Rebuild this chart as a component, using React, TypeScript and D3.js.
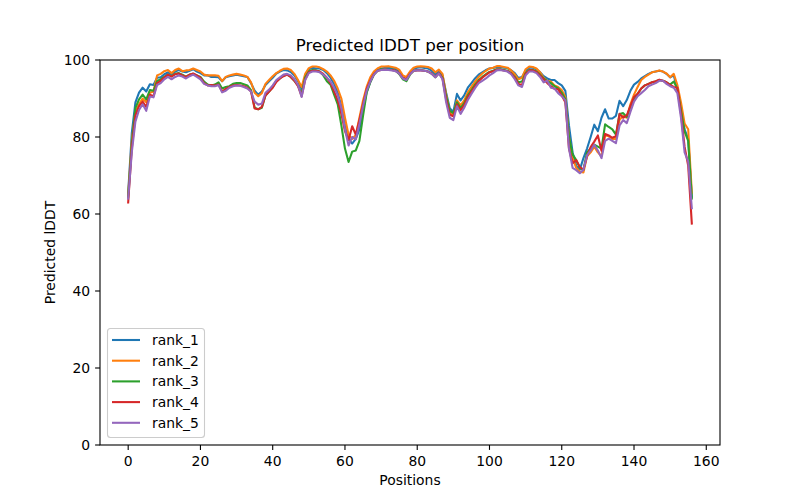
import * as d3 from "d3";

const seriesNames = ["rank_1", "rank_2", "rank_3", "rank_4", "rank_5"];
const colors = ["#1f77b4", "#ff7f0e", "#2ca02c", "#d62728", "#9467bd"];

const rank1 = [
  65.5, 81, 89, 91.5, 92.8, 91.8, 93.7, 93.5, 95.4, 95.5, 96.3, 96.8, 96.3, 97, 97.4, 97, 96.8, 97.2, 97.6, 97,
  96.6, 96, 96, 95.6, 95.6, 95.5, 94.5, 95.5, 95.8, 96, 96.2, 96, 95.8, 95.6, 94, 92, 91, 91.8, 93.5, 94.5,
  95.4, 96.5, 97, 97.4, 97.3, 96.9, 96, 94.5, 92.5, 95.5, 97.6, 98, 97.8, 97.8, 97.4, 96.6, 95.4, 93.8, 91.5, 88,
  83, 79.5, 78.3, 79.5, 82, 87, 91.6, 94.3, 96.2, 97.3, 97.8, 97.9, 98, 97.9, 97.7, 97, 95.4, 95, 96.8, 97.8,
  98, 98.1, 97.9, 97.8, 97.2, 96.3, 97.2, 96, 91.5, 87.5, 86.5, 91.2, 89.5, 90.8, 92.8, 94, 95.2, 96.2, 96.8, 97.4,
  97.8, 97.9, 98.2, 98.2, 98, 97.9, 97.3, 96.6, 95.3, 95.6, 97.2, 98, 98, 97.6, 96.8, 95.8, 95.2, 94.8, 94.8, 94,
  93.4, 92, 83, 76, 72.5, 71.5, 74.5, 77, 80, 83.2, 81.5, 85, 87.2, 84.8, 84.8, 85.5, 89.4, 88, 89.6, 92,
  93.6, 94.3, 95.2, 95.8, 96.4, 96.8, 97, 97.2, 97, 96.4, 95.5, 96, 92.5, 87, 82, 79.5, 64.5,
];

const rank2 = [
  65, 79, 86.5, 88.5, 90, 89, 91.5, 91.8, 96, 96.4, 97.1, 97.4, 96.6, 97.4, 97.8, 97.1, 97.3, 97.4, 97.8, 97.4,
  97, 96.2, 96, 96, 96, 95.9, 94.5, 95.6, 96, 96.2, 96.4, 96.2, 96, 95.6, 94.2, 91.5, 90.6, 91.4, 93.8, 94.8,
  95.8, 96.6, 97.2, 97.7, 97.8, 97.4, 96.4, 94.8, 93, 96.4, 97.9, 98.3, 98.3, 98.1, 97.6, 97, 96, 94.6, 92.6, 90,
  85, 80.5, 79.5, 80.5, 85, 89.5, 93, 95.5, 97, 97.8, 98.3, 98.3, 98.4, 98.2, 98, 97.5, 96, 95.6, 97, 98,
  98.3, 98.4, 98.3, 98.2, 97.8, 96.8, 97.5, 96.4, 91, 86.5, 85.5, 89.5, 88.2, 89.5, 91.6, 93, 94.4, 95.6, 96.5, 97.2,
  97.8, 98, 98.4, 98.4, 98.2, 98, 97.3, 96.3, 95, 95.4, 97.6, 98.3, 98.2, 97.8, 96.8, 95.4, 94.6, 94.4, 93.4, 93,
  92.2, 90.4, 80, 74.5, 72, 71, 70.8, 75, 76, 77.5, 76, 75, 80.5, 80.2, 79.5, 79.5, 84.5, 85.5, 85, 88.5,
  91, 93, 94.8, 95.6, 96.2, 96.8, 97, 97.3, 97, 96.5, 95.5, 96.4, 93.5, 89, 83.5, 82, 65.5,
];

const rank3 = [
  64.5, 78, 87.5, 89.8, 91, 89.8, 92.2, 92, 94.5, 95, 95.6, 96.2, 95.8, 96.4, 96.6, 96.2, 95.7, 96.2, 96.4, 96,
  95.6, 94.4, 93.6, 93.4, 93.6, 94.2, 92.6, 93, 93.2, 93.8, 94, 94, 93.7, 93.4, 92.2, 87.6, 87.2, 87.6, 90.8, 91.8,
  93, 94.5, 95.2, 96, 96.2, 95.6, 94.6, 93.4, 91.2, 95.5, 97, 97.4, 97.3, 97, 96, 94.5, 93.6, 91, 88.5, 83,
  77, 73.5, 76.2, 76.5, 79, 85.5, 91.5, 94.2, 96.2, 97.2, 97.6, 97.6, 97.4, 97.5, 97.2, 96.4, 95, 94.5, 96.2, 97.2,
  97.4, 97.4, 97.2, 97, 96.5, 95.5, 96.6, 95.4, 90.6, 86.8, 86.2, 89, 87.5, 88.8, 90.8, 92.2, 93.6, 94.8, 95.6, 96.3,
  96.9, 97.2, 97.6, 97.6, 97.4, 97.2, 96.6, 95.6, 94.2, 94.4, 96.6, 97.4, 97.4, 97, 96.2, 95.2, 94.5, 94, 93.2, 92.6,
  91.5, 89.8, 80, 75.5, 74, 72, 71.5, 76, 77, 78, 77.5, 77, 83.3, 82.6, 82, 80.6, 86, 86.2, 85.2, 87.8,
  89.8, 91.2, 92.6, 93.4, 93.8, 94.2, 94.4, 94.8, 94.6, 94.2, 93.6, 94.4, 92.5, 87, 81.4, 79, 64,
];

const rank4 = [
  63, 77, 85.6, 88, 89.2, 87.8, 91, 90.6, 94, 94.6, 95.5, 96.2, 95.7, 96.3, 96.5, 96, 95.6, 96.2, 96.5, 96,
  95.4, 94, 93.4, 93.5, 93.4, 93.6, 91.8, 92.5, 93, 93.4, 93.5, 93.4, 93.2, 92.8, 91.8, 87.4, 87.2, 87.8, 90.8, 91.8,
  92.8, 94.3, 95.2, 95.8, 96.2, 95.6, 94.6, 93.2, 90.6, 95, 96.8, 97.2, 97.2, 97, 96.4, 95.4, 94, 91.8, 89.5, 86,
  81.5, 79.2, 82.8, 80.6, 84.4, 88.5, 92.5, 94.6, 96.3, 97.2, 97.4, 97.5, 97.4, 97.4, 97.2, 96.6, 95.4, 95, 96.4, 97.2,
  97.3, 97.3, 97.2, 97, 96.5, 95.6, 96.6, 95.2, 89.8, 85.8, 85.4, 88.5, 87, 88.3, 90.4, 91.8, 93.2, 94.5, 95.4, 96.1,
  96.8, 97.1, 97.5, 97.5, 97.3, 97.1, 96.5, 95.4, 93.8, 93.5, 96.4, 97.3, 97.3, 96.9, 96, 95, 94, 93.2, 92.5, 92.4,
  90.8, 89, 77, 73.2, 74, 72.2, 71.5, 75, 77.4, 78.8, 80.4, 76.4, 80.8, 80.4, 79.8, 80.2, 86, 85, 85.6, 88,
  90.4, 91.2, 92.6, 93.4, 93.8, 94.2, 94.5, 94.9, 94.6, 94.2, 93.5, 93, 92.8, 86, 77.5, 72.5, 57.5,
];

const rank5 = [
  64, 76, 84, 87, 88.5, 86.8, 90.5, 90.3, 93.5, 94, 95, 95.6, 95, 95.6, 96, 95.7, 95.2, 95.8, 96.2, 95.6,
  95, 93.8, 93.4, 93.2, 93.2, 93.5, 91.6, 92, 92.8, 93.2, 93.4, 93.3, 93, 92.6, 91.8, 89.2, 88.4, 88.7, 91.5, 92.3,
  93.4, 94.8, 95.5, 96.2, 96.4, 96, 95, 93.5, 90.4, 94.8, 96.6, 97, 97, 96.8, 96.2, 95.4, 94.4, 92.8, 90.8, 87.5,
  82, 77.8, 80, 79.4, 83.4, 88, 92, 94.4, 96.2, 97.2, 97.4, 97.5, 97.4, 97.3, 97.1, 96.5, 95.2, 94.8, 96.3, 97.2,
  97.3, 97.3, 97.2, 97, 96.4, 95.5, 96.5, 95, 89, 85, 84.4, 88, 86, 87.6, 89.6, 91.2, 92.7, 94, 94.6, 95.2,
  96, 96.6, 97.3, 97.4, 97.2, 97, 96.3, 95, 93.4, 93, 96, 97, 97, 96.6, 95.6, 94.2, 94.6, 92.8, 92.6, 91.4,
  90.6, 89.5, 77, 72, 71.4, 70.6, 71.5, 75.2, 76.5, 78, 76.5, 74.5, 79, 79.6, 79, 78.4, 83, 84.4, 83.6, 86.5,
  89.2, 90.6, 91.4, 92.2, 93.2, 93.6, 94, 94.6, 94.6, 93.8, 93.2, 92.8, 91.4, 85, 76, 73.6, 61.5,
];

const seriesValues = [rank1, rank2, rank3, rank4, rank5];
const xTicks = [0, 20, 40, 60, 80, 100, 120, 140, 160];
const yTicks = [0, 20, 40, 60, 80, 100];

const W = 800, H = 500;
const left = 100, right = 720, top = 60, bottom = 445;
const font = "DejaVu Sans, sans-serif";

export default function App() {
  const n = rank1.length;
  const pad = (n - 1) * 0.05;
  const x = d3.scaleLinear().domain([-pad, n - 1 + pad]).range([left, right]);
  const y = d3.scaleLinear().domain([0, 100]).range([bottom, top]);
  const line = d3.line<number>().x((d, i) => x(i)).y(d => y(d));

  return (
    <svg width={W} height={H} style={{ display: "block", margin: -8 }} fontFamily={font}>
      <rect width={W} height={H} fill="#fff" />
      <text x={(left + right) / 2} y={51} textAnchor="middle" fontSize={16.7} fill="#000">
        Predicted lDDT per position
      </text>
      {seriesValues.map((vals, i) => (
        <path key={seriesNames[i]} d={line(vals) || ""} fill="none" stroke={colors[i]} strokeWidth={2.08} strokeLinejoin="round" strokeLinecap="square" />
      ))}
      <rect x={left} y={top} width={right - left} height={bottom - top} fill="none" stroke="#000" strokeWidth={1.1} />
      {xTicks.map(t => (
        <g key={"x" + t}>
          <line x1={x(t)} x2={x(t)} y1={bottom} y2={bottom + 4.9} stroke="#000" strokeWidth={1.1} />
          <text x={x(t)} y={bottom + 20.5} textAnchor="middle" fontSize={13.9} fill="#000">{t}</text>
        </g>
      ))}
      {yTicks.map(t => (
        <g key={"y" + t}>
          <line x1={left - 4.9} x2={left} y1={y(t)} y2={y(t)} stroke="#000" strokeWidth={1.1} />
          <text x={left - 9.8} y={y(t)} dy="0.35em" textAnchor="end" fontSize={13.9} fill="#000">{t}</text>
        </g>
      ))}
      <text x={(left + right) / 2} y={485} textAnchor="middle" fontSize={13.9} fill="#000">Positions</text>
      <text transform={`translate(55,${(top + bottom) / 2}) rotate(-90)`} textAnchor="middle" fontSize={13.9} fill="#000">
        Predicted lDDT
      </text>
      <g>
        <rect x={107.5} y={328.5} width={97} height={109} rx={3} fill="#fff" fillOpacity={0.8} stroke="#ccc" strokeWidth={1.1} />
        {seriesNames.map((name, i) => (
          <g key={name}>
            <line x1={112} x2={140} y1={340 + i * 20.7} y2={340 + i * 20.7} stroke={colors[i]} strokeWidth={2.08} />
            <text x={152} y={340 + i * 20.7} dy="0.35em" fontSize={13.9} fill="#000">{name}</text>
          </g>
        ))}
      </g>
    </svg>
  );
}
